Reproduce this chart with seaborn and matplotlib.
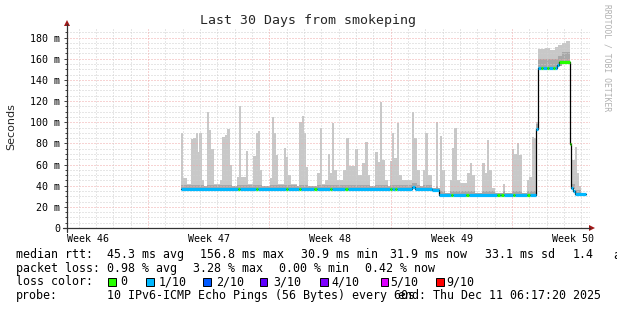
import numpy as np
import matplotlib
matplotlib.use("Agg")
import matplotlib.pyplot as plt
import seaborn as sns
from matplotlib.patches import Rectangle, Polygon
from matplotlib.lines import Line2D

# ---------------- data ----------------
# smoke (spread of pings): segment start (days into the 30-day window) and top value (ms)
smoke_day = [6.58, 6.69, 6.92, 7.15, 7.27, 7.44, 7.56, 7.62, 7.79, 7.90,
             8.08, 8.19, 8.31, 8.48, 8.83, 8.94, 9.12, 9.23, 9.41, 9.52,
             9.81, 9.92, 10.04, 10.33, 10.44, 10.73, 10.91, 11.02, 11.14, 11.25,
             11.71, 11.83, 11.94, 12.06, 12.18, 12.52, 12.64, 12.75, 12.93, 13.27,
             13.39, 13.56, 13.67, 13.79, 13.91, 14.43, 14.60, 14.71, 14.89, 15.06,
             15.18, 15.29, 15.41, 15.58, 15.93, 16.10, 16.27, 16.62, 16.79, 17.02,
             17.19, 17.37, 17.48, 17.77, 17.95, 18.06, 18.18, 18.35, 18.52, 18.64,
             18.75, 18.87, 19.04, 19.16, 19.33, 19.91, 20.02, 20.20, 20.37, 20.54,
             20.66, 20.83, 21.06, 21.29, 21.41, 21.52, 21.64, 21.81, 22.10, 22.21,
             22.33, 22.50, 22.68, 23.08, 23.25, 23.37, 23.54, 23.95, 24.12, 24.23,
             24.35, 24.52, 24.70, 25.16, 25.27, 25.68, 25.79, 25.97, 26.08, 26.25,
             26.54, 26.66, 26.83, 26.95, 27.06, 27.18, 27.58, 27.87, 28.16, 28.33,
             28.56, 28.79, 29.02, 29.14, 29.31, 29.43, 29.54, 29.66]
smoke_top = [90, 47, 42, 84, 85, 90, 72, 90, 45, 40,
             110, 93, 75, 42, 45, 86, 88, 94, 60, 40,
             48, 115, 48, 73, 42, 68, 90, 92, 55, 40,
             47, 105, 90, 69, 42, 76, 67, 50, 42, 40,
             100, 106, 90, 58, 40, 52, 95, 42, 45, 70,
             52, 99, 55, 45, 55, 85, 59, 75, 50, 61,
             81, 50, 40, 72, 62, 119, 64, 45, 40, 63,
             90, 66, 99, 50, 45, 110, 85, 55, 40, 55,
             90, 50, 38, 100, 38, 87, 55, 33, 45, 76,
             95, 45, 43, 52, 61, 50, 33, 61, 52, 83,
             55, 38, 33, 42, 33, 75, 70, 80, 69, 33,
             45, 48, 86, 85, 100, 169, 170, 168, 171, 173,
             175, 177, 80, 64, 77, 52, 40, 33]
data_end = 29.95

# median rtt steps: start day, value (ms), loss class index
med_day = [6.58, 9.84, 9.96, 10.88, 11.00, 12.61, 12.73, 13.36, 13.48, 14.28,
           14.40, 15.15, 15.27, 16.07, 16.19, 18.66, 18.78, 18.90, 19.02, 19.91,
           20.08, 21.06, 21.47, 22.18, 22.30, 23.05, 23.17, 24.84, 24.96, 25.07,
           25.19, 25.71, 25.83, 26.57, 26.69, 27.06, 27.18, 27.35, 27.47, 27.70,
           27.82, 28.04, 28.16, 28.27, 28.39, 29.02, 29.08, 29.20, 29.31]
med_val = [37, 37, 37, 37, 37, 37, 37, 37, 37, 37,
           37, 37, 37, 37, 37, 37, 37, 37, 37, 39,
           37, 36, 31, 31, 31, 31, 31, 31, 31, 31,
           31, 31, 31, 31, 31, 94, 151, 151, 151, 151,
           151, 151, 151, 154, 157, 79, 38, 35, 32]
med_loss = [1, 0, 1, 0, 1, 0, 1, 0, 1, 0,
            1, 0, 1, 0, 1, 0, 1, 0, 1, 1,
            1, 1, 1, 0, 1, 0, 1, 0, 1, 0,
            1, 0, 1, 0, 1, 1, 1, 0, 1, 0,
            1, 0, 1, 1, 0, 0, 1, 1, 1]

# darker smoke band above the median
band_day = [6.58, 27.18, 29.02]
band_ms = [4, 9, 4]

loss_labels = ["0", "1/10", "2/10", "3/10", "4/10", "5/10", "9/10"]
loss_colors = ["#26ff00", "#00b8ff", "#0059ff", "#5e00ff", "#7e00ff", "#dd00ff", "#ff0000"]

y_ticks = [0, 20, 40, 60, 80, 100, 120, 140, 160, 180]
y_labels = ["0", "20 m", "40 m", "60 m", "80 m", "100 m", "120 m", "140 m", "160 m", "180 m"]
week_labels = ["Week 46", "Week 47", "Week 48", "Week 49", "Week 50"]
week_centers = [1.19, 8.19, 15.19, 22.19, 29.19]
week_starts = [4.67, 11.67, 18.67, 25.67]
day_lines = [0.67 + k for k in range(30)]

assert len(smoke_day) == len(smoke_top)
assert len(med_day) == len(med_val) == len(med_loss)

# ---------------- figure ----------------
sns.set_theme(style="white")
plt.rcParams["font.family"] = ["DejaVu Sans Mono", "DejaVu Sans"]
W, H = 617, 310
fig = plt.figure(figsize=(W / 100, H / 100), dpi=100, facecolor="white")
def fx(px): return px / W
def fy(py): return 1 - py / H

ax = fig.add_axes([fx(67), fy(228), (590 - 67) / W, (228 - 27) / H])
ax.set_facecolor("white")
ax.set_xlim(0, 30.18)
ax.set_ylim(0, 190)
for s in ax.spines.values():
    s.set_visible(False)

# grid
for v in range(5, 190, 5):
    if v % 20 == 0:
        ax.axhline(v, color="#f0a8a8", lw=0.72, ls=(0, (1, 2)), zorder=2)
    else:
        ax.axhline(v, color="#cfcfcf", lw=0.72, ls=(0, (1, 2)), zorder=2)
for d in day_lines:
    if any(abs(d - w) < 1e-6 for w in week_starts):
        continue
    ax.axvline(d, color="#cfcfcf", lw=0.72, ls=(0, (1, 2)), zorder=2)
for w in week_starts:
    ax.axvline(w, color="#f0a8a8", lw=0.72, ls=(0, (1, 2)), zorder=2)

# smoke
sd = np.array(smoke_day)
st = np.array(smoke_top, dtype=float)
md = np.array(med_day)
mv = np.array(med_val, dtype=float)
idx = np.clip(np.searchsorted(md, sd, side="right") - 1, 0, None)
med_at = mv[idx]
bidx = np.clip(np.searchsorted(np.array(band_day), sd, side="right") - 1, 0, None)
dark_top = np.minimum(st, med_at + np.array(band_ms)[bidx])
xs = np.append(sd, data_end)
ax.fill_between(xs, np.append(med_at - 1, med_at[-1] - 1), np.append(st, st[-1]),
                step="post", color="#c8c8c8", lw=0, zorder=1)
ax.fill_between(xs, np.append(med_at - 1, med_at[-1] - 1), np.append(dark_top, dark_top[-1]),
                step="post", color="#a8a8a8", lw=0, zorder=1.5)

# median: thin black steps, then loss-coloured segments
sns.lineplot(x=med_day + [data_end], y=med_val + [med_val[-1]], drawstyle="steps-post",
             color="black", lw=0.9, estimator=None, sort=False, ax=ax, zorder=3)
ends = med_day[1:] + [data_end]
for d0, d1, v, l in zip(med_day, ends, med_val, med_loss):
    ax.plot([d0, d1], [v, v], color=loss_colors[l], lw=2.3, solid_capstyle="butt", zorder=4)

# ticks
ax.set_yticks(y_ticks)
ax.set_yticklabels(y_labels, fontsize=7.2, fontfamily="DejaVu Sans Mono", color="black")
ax.set_yticks(list(range(5, 190, 5)), minor=True)
ax.tick_params(axis="y", which="major", direction="out", length=2.5, width=0.7, color="#404040", pad=2.5, left=True)
ax.tick_params(axis="y", which="minor", direction="out", length=1.3, width=0.7, color="#404040", left=True)
ax.set_xticks(week_centers)
ax.set_xticklabels(week_labels, fontsize=7.2, fontfamily="DejaVu Sans Mono", color="black")
ax.tick_params(axis="x", which="major", length=0, pad=4)
ax.set_xlabel("")
ax.set_ylabel("")

# axes lines and arrows
axis_col = "#333333"
fig.add_artist(Line2D([fx(67), fx(67)], [fy(232), fy(24)], color=axis_col, lw=0.9))
fig.add_artist(Line2D([fx(63), fx(590)], [fy(228), fy(228)], color=axis_col, lw=0.9))
arrow_col = "#a01818"
fig.add_artist(Polygon([[fx(64), fy(26)], [fx(70), fy(26)], [fx(67), fy(20)]], closed=True,
                       color=arrow_col, lw=0))
fig.add_artist(Polygon([[fx(589), fy(225)], [fx(589), fy(231)], [fx(595), fy(228)]], closed=True,
                       color=arrow_col, lw=0))

# titles
fig.text(fx(307.5), fy(24), "Last 30 Days from smokeping", ha="center", va="baseline",
         fontsize=9.5, fontfamily="DejaVu Sans Mono")
fig.text(fx(11), fy(127), "Seconds", rotation=90, ha="center", va="center",
         fontsize=8, fontfamily="DejaVu Sans")
fig.text(fx(607), fy(4), "RRDTOOL / TOBI OETIKER", rotation=270, ha="center", va="top",
         fontsize=5.8, fontfamily="DejaVu Sans Mono", color="#b0b0b0")

# legend
LF = dict(fontsize=8.4, fontfamily="DejaVu Sans Mono", va="baseline", ha="left", color="black")
row1 = [(16, "median rtt:"), (107, "45.3 ms avg"), (200, "156.8 ms max"), (301, "30.9 ms min"),
        (390, "31.9 ms now"), (485, "33.1 ms sd"), (573, "1.4"), (613, "am/as")]
row2 = [(16, "packet loss:"), (107, "0.98 % avg"), (193, "3.28 % max"), (279, "0.00 % min"),
        (365, "0.42 % now")]
for x, s in row1:
    fig.text(fx(x), fy(258.3), s, **LF)
for x, s in row2:
    fig.text(fx(x), fy(271.7), s, **LF)
fig.text(fx(16), fy(285.2), "loss color:", **LF)
sq_x = [108, 146, 203, 259.5, 320, 380.5, 436]
lab_x = [120, 159, 216.5, 273, 331, 390.5, 446.5]
for sx, lx, lab, col in zip(sq_x, lab_x, loss_labels, loss_colors):
    fig.add_artist(Rectangle((fx(sx), fy(286)), 7.5 / W, 8 / H, facecolor=col,
                             edgecolor="black", lw=0.7))
    fig.text(fx(lx), fy(285.2), lab, **LF)
fig.text(fx(16), fy(299.3), "probe:", **LF)
fig.text(fx(107), fy(299.3), "10 IPv6-ICMP Echo Pings (56 Bytes) every 60s", **LF)
fig.text(fx(601), fy(299.3), "end: Thu Dec 11 06:17:20 2025",
         **{**LF, "ha": "right"})

fig.savefig("out.png", dpi=100, facecolor="white")
